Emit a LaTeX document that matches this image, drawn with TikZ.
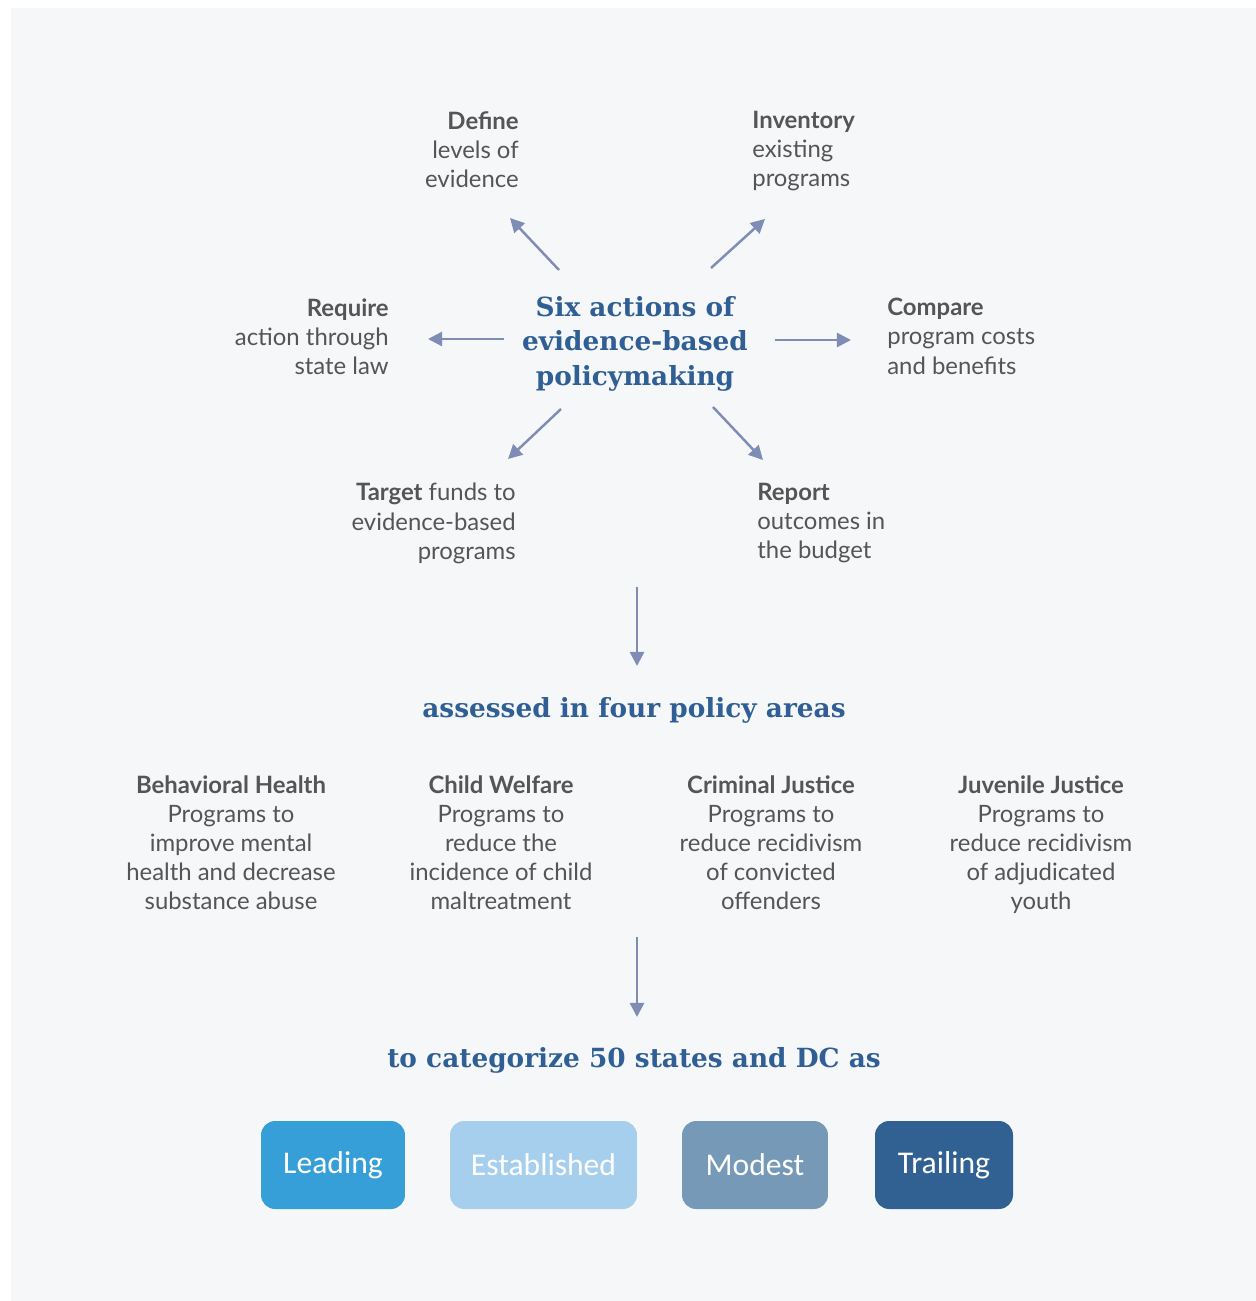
\documentclass[tikz,border=0pt]{standalone}
\usepackage{fontspec}
\setmainfont{Lato}
\newfontfamily\slabfont{DejaVu Serif}
\newfontfamily\boxfont{Carlito}
\usetikzlibrary{arrows.meta}
\definecolor{bgcol}{HTML}{F6F7F9}
\definecolor{txtgray}{HTML}{555555}
\definecolor{headblue}{HTML}{2F5F94}
\definecolor{arrowcol}{HTML}{7F8DB5}
\definecolor{leadcol}{HTML}{369FD8}
\definecolor{estcol}{HTML}{A6CFEE}
\definecolor{modcol}{HTML}{7599B6}
\definecolor{trailcol}{HTML}{316193}
\begin{document}
\begin{tikzpicture}[x=0.02cm,y=-0.02cm, line join=round, >={Triangle[length=8pt,width=8pt]}]
	\tikzset{
		body/.style={inner sep=0pt, text=txtgray, font=\fontsize{13.6}{16.6}\selectfont},
		actr/.style={body, anchor=north east, align=right},
		actl/.style={body, anchor=north west, align=left},
		area/.style={body, anchor=north, align=center},
		headline/.style={inner sep=0pt, text=headblue, font=\slabfont\bfseries\fontsize{15}{19.6}\selectfont},
		rating/.style={rounded corners=8pt, minimum height=1.76cm, text=white, font=\boxfont\fontsize{18}{20}\selectfont},
		flow/.style={draw=arrowcol, line width=1.4pt, ->}}
	\useasboundingbox (0,0) rectangle (1256,1301);
	\fill[bgcol] (11,8) rectangle (1256,1301);
	% the six actions
	\node[headline, align=center, anchor=north] (six) at (635,296) {Six actions of\\evidence-based\\policymaking};
	\node[actr] (define) at (519,111) {\textbf{Define}\\levels of\\evidence};
	\node[actl] (inventory) at (752,111) {\textbf{Inventory}\\existing\\programs};
	\node[actr] (require) at (389,298) {\textbf{Require}\\action through\\state law};
	\node[actl] (compare) at (887,298) {\textbf{Compare}\\program costs\\and benefits};
	\node[actr] (target) at (516,483) {\textbf{Target} funds to\\evidence-based\\programs};
	\node[actl] (report) at (757,483) {\textbf{Report}\\outcomes in\\the budget};
	\path (559,270) coordinate (d0) (510,218) coordinate (d1)
		(711,268) coordinate (i0) (765,219) coordinate (i1)
		(504,339) coordinate (q0) (428,339) coordinate (q1)
		(775,340) coordinate (c0) (851,340) coordinate (c1)
		(561,409) coordinate (t0) (508,459) coordinate (t1)
		(713,407) coordinate (r0) (763,460) coordinate (r1);
	\foreach \a in {d,i,q,c,t,r}
	\draw[flow] (\a0) -- (\a1);
	% policy areas
	\coordinate (down1) at (637,587);
	\node[headline, anchor=center] (assessed) at (634,710) {assessed in four policy areas};
	\draw[flow] (down1) -- (637,666) coordinate (down1e);
	\node[area] (behav) at (231,775) {\textbf{Behavioral Health}\\Programs to\\improve mental\\health and decrease\\substance abuse};
	\node[area] (child) at (501,775) {\textbf{Child Welfare}\\Programs to\\reduce the\\incidence of child\\maltreatment};
	\node[area] (crim) at (771,775) {\textbf{Criminal Justice}\\Programs to\\reduce recidivism\\of convicted\\offenders};
	\node[area] (juv) at (1041,775) {\textbf{Juvenile Justice}\\Programs to\\reduce recidivism\\of adjudicated\\youth};
	% categories
	\coordinate (down2) at (637,937);
	\draw[flow] (down2) -- (637,1017) coordinate (down2e);
	\node[headline, anchor=center] (categorize) at (634,1060) {to categorize 50 states and DC as};
	\node[rating, fill=leadcol, minimum width=2.88cm] (leading) at (333,1165) {Leading};
	\node[rating, fill=estcol, minimum width=3.74cm] (established) at (543.5,1165) {Established};
	\node[rating, fill=modcol, minimum width=2.92cm] (modest) at (755,1165) {Modest};
	\node[rating, fill=trailcol, minimum width=2.76cm] (trailing) at (944,1165) {Trailing};
\end{tikzpicture}
\end{document}
